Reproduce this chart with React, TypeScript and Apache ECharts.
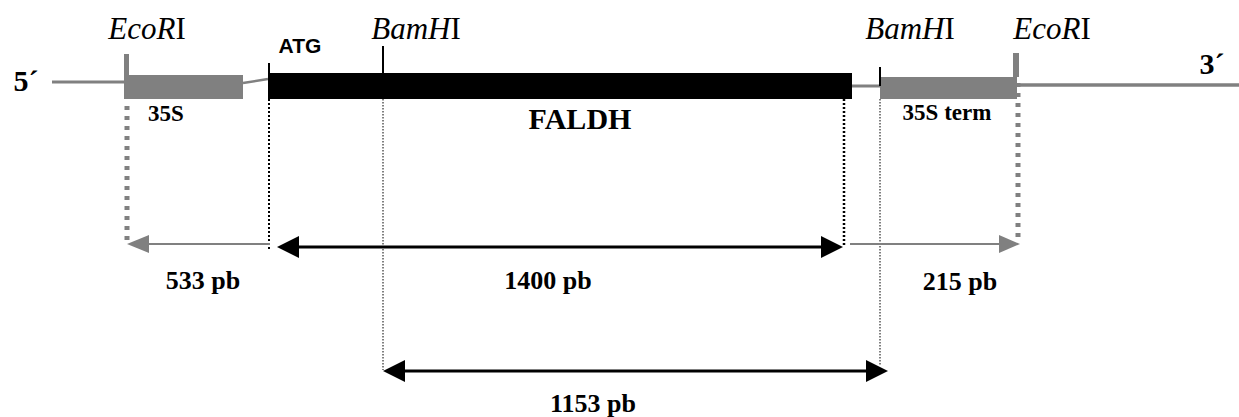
import React, { useEffect, useRef } from "react";
import * as echarts from "echarts";

const GRAY = "#808080";
const BLACK = "#000000";
const W = 1239;
const H = 417;

// Construct regions (drawing units: x along the construct, y downwards)
const boxNames = ["35S", "FALDH", "35S term"];
const boxStart = [124, 268, 880];
const boxEnd = [243, 852, 1017];
const boxTop = [75, 73, 77];
const boxBottom = [99, 99, 99];

// Backbone and linker segments: [x0, y0, x1, y1]
const backbone = [
  [52, 82, 124, 82],
  [243, 83, 268, 79],
  [844, 86, 880, 86],
  [1019, 85, 1239, 85],
];

// Sites marked by a tick above the construct
const siteNames = ["EcoRI", "ATG", "BamHI", "BamHI", "EcoRI"];
const siteX = [126.5, 269, 383, 880, 1016];
const siteTop = [54, 63, 46, 67, 53];
const siteBottom = [75, 73, 73, 86, 77];

// Dotted guide lines dropped from the construct
const guideX = [127, 1018, 269, 844, 383, 880];
const guideTop = [106, 83, 99, 99, 99, 99];
const guideBottom = [240, 240, 250, 246, 370, 366];

// Fragment size arrows
const fragmentLabels = ["533 pb", "1400 pb", "215 pb", "1153 pb"];
const fragmentTail = [270, 277, 850, 383];
const fragmentTip = [127, 843, 1020, 888];
const fragmentY = [244, 247, 244, 371];
const fragmentDouble = [0, 1, 0, 1];
const fragmentLabelX = [203, 548, 960, 593];
const fragmentLabelY = [280, 280, 281, 403];

// Other labels
const endLabels = ["5´", "3´"];
const endLabelX = [26, 1212];
const endLabelY = [80, 63];
const siteLabelX = [147, 300, 416, 910, 1052];
const siteLabelY = [28, 45, 28, 28, 28];
const boxLabelX = [166, 580, 947];
const boxLabelY = [113, 118, 112];

// styles (kept apart from the data)
const boxColor = [GRAY, BLACK, GRAY];
const backboneWidth = [3, 2.5, 3, 3.5];
const siteWidth = [5, 2, 2, 2, 6];
const siteColor = [GRAY, BLACK, BLACK, BLACK, GRAY];
const guideStyle = [
  { stroke: GRAY, lineWidth: 5, lineDash: [4, 6] },
  { stroke: GRAY, lineWidth: 5, lineDash: [4, 6] },
  { stroke: BLACK, lineWidth: 2, lineDash: [2, 2] },
  { stroke: BLACK, lineWidth: 2.5, lineDash: [2, 2] },
  { stroke: BLACK, lineWidth: 1, lineDash: [1.5, 1.5] },
  { stroke: BLACK, lineWidth: 1, lineDash: [1.5, 1.5] },
];
const fragmentColor = [GRAY, BLACK, GRAY, BLACK];
const fragmentWidth = [2, 3, 2, 3];
const headLen = [22, 22, 21, 22];
const headHalf = [9, 11, 9, 11];

const SERIF = "'Liberation Serif', 'Times New Roman', serif";
const SANS = "'Liberation Sans', Arial, sans-serif";

export default function App() {
  const ref = useRef<HTMLDivElement>(null);

  useEffect(() => {
    if (!ref.current) return;
    const chart = echarts.init(ref.current, undefined, { renderer: "svg" });

    const labelRows: any[] = [];
    endLabels.forEach((t, i) =>
      labelRows.push({ value: [endLabelX[i], endLabelY[i]], text: t, font: `bold 30px ${SERIF}` })
    );
    siteNames.forEach((t, i) => {
      if (t === "ATG") {
        labelRows.push({ value: [siteLabelX[i], siteLabelY[i]], text: t, font: `bold 21px ${SANS}` });
      } else {
        const head = t.slice(0, -1);
        labelRows.push({
          value: [siteLabelX[i], siteLabelY[i]],
          text: `{i|${head}}{n|I}`,
          rich: {
            i: { fontFamily: SERIF, fontStyle: "italic", fontSize: 31, fill: BLACK },
            n: { fontFamily: SERIF, fontSize: 31, fill: BLACK },
          },
        });
      }
    });
    boxNames.forEach((t, i) =>
      labelRows.push({
        value: [boxLabelX[i], boxLabelY[i]],
        text: t,
        font: i === 1 ? `bold 30px ${SERIF}` : `bold 23px ${SERIF}`,
      })
    );
    fragmentLabels.forEach((t, i) =>
      labelRows.push({ value: [fragmentLabelX[i], fragmentLabelY[i]], text: t, font: `bold 26px ${SERIF}` })
    );

    const option: any = {
      animation: false,
      backgroundColor: "#ffffff",
      grid: { left: 0, right: 0, top: 0, bottom: 0 },
      xAxis: { type: "value", min: 0, max: W, show: false },
      yAxis: { type: "value", min: 0, max: H, inverse: true, show: false },
      series: [
        {
          type: "custom",
          name: "backbone",
          clip: false,
          data: backbone,
          renderItem: (p: any, api: any) => {
            const a = api.coord([api.value(0), api.value(1)]);
            const b = api.coord([api.value(2), api.value(3)]);
            return {
              type: "line",
              shape: { x1: a[0], y1: a[1], x2: b[0], y2: b[1] },
              style: { stroke: GRAY, lineWidth: backboneWidth[p.dataIndex] },
            };
          },
        },
        {
          type: "custom",
          name: "regions",
          clip: false,
          data: boxNames.map((_, i) => [boxStart[i], boxTop[i], boxEnd[i], boxBottom[i]]),
          renderItem: (p: any, api: any) => {
            const a = api.coord([api.value(0), api.value(1)]);
            const b = api.coord([api.value(2), api.value(3)]);
            return {
              type: "rect",
              shape: {
                x: Math.min(a[0], b[0]),
                y: Math.min(a[1], b[1]),
                width: Math.abs(b[0] - a[0]),
                height: Math.abs(b[1] - a[1]),
              },
              style: { fill: boxColor[p.dataIndex] },
            };
          },
        },
        {
          type: "custom",
          name: "sites",
          clip: false,
          data: siteNames.map((_, i) => [siteX[i], siteTop[i], siteBottom[i]]),
          renderItem: (p: any, api: any) => {
            const a = api.coord([api.value(0), api.value(1)]);
            const b = api.coord([api.value(0), api.value(2)]);
            return {
              type: "line",
              shape: { x1: a[0], y1: a[1], x2: b[0], y2: b[1] },
              style: { stroke: siteColor[p.dataIndex], lineWidth: siteWidth[p.dataIndex] },
            };
          },
        },
        {
          type: "custom",
          name: "guides",
          clip: false,
          data: guideX.map((x, i) => [x, guideTop[i], guideBottom[i]]),
          renderItem: (p: any, api: any) => {
            const a = api.coord([api.value(0), api.value(1)]);
            const b = api.coord([api.value(0), api.value(2)]);
            return {
              type: "line",
              shape: { x1: a[0], y1: a[1], x2: b[0], y2: b[1] },
              style: { ...guideStyle[p.dataIndex], fill: null },
            };
          },
        },
        {
          type: "custom",
          name: "fragments",
          clip: false,
          data: fragmentLabels.map((_, i) => [fragmentTail[i], fragmentTip[i], fragmentY[i], fragmentDouble[i]]),
          renderItem: (p: any, api: any) => {
            const i = p.dataIndex;
            const t = api.coord([api.value(0), api.value(2)]);
            const h = api.coord([api.value(1), api.value(2)]);
            const dbl = api.value(3) === 1;
            const dir = h[0] > t[0] ? 1 : -1;
            const L = headLen[i];
            const HH = headHalf[i];
            const col = fragmentColor[i];
            const y = h[1];
            const startX = dbl ? t[0] + dir * L : t[0];
            const endX = h[0] - dir * L;
            const children: any[] = [
              {
                type: "line",
                shape: { x1: startX, y1: y, x2: endX, y2: y },
                style: { stroke: col, lineWidth: fragmentWidth[i] },
              },
              {
                type: "polygon",
                shape: { points: [[h[0], y], [h[0] - dir * L, y - HH], [h[0] - dir * L, y + HH]] },
                style: { fill: col },
              },
            ];
            if (dbl) {
              children.push({
                type: "polygon",
                shape: { points: [[t[0], y], [t[0] + dir * L, y - HH], [t[0] + dir * L, y + HH]] },
                style: { fill: col },
              });
            }
            return { type: "group", children };
          },
        },
        {
          type: "custom",
          name: "labels",
          clip: false,
          data: labelRows.map((r) => r.value),
          renderItem: (p: any, api: any) => {
            const r = labelRows[p.dataIndex];
            const c = api.coord([api.value(0), api.value(1)]);
            const style: any = {
              text: r.text,
              fill: BLACK,
              align: "center",
              verticalAlign: "middle",
            };
            if (r.rich) style.rich = r.rich;
            else style.font = r.font;
            return { type: "text", x: c[0], y: c[1], style };
          },
        },
      ],
    };
    chart.setOption(option);
    return () => chart.dispose();
  }, []);

  return (
    <div
      ref={ref}
      style={{ position: "fixed", left: 0, top: 0, width: W, height: H, background: "#fff" }}
    />
  );
}
